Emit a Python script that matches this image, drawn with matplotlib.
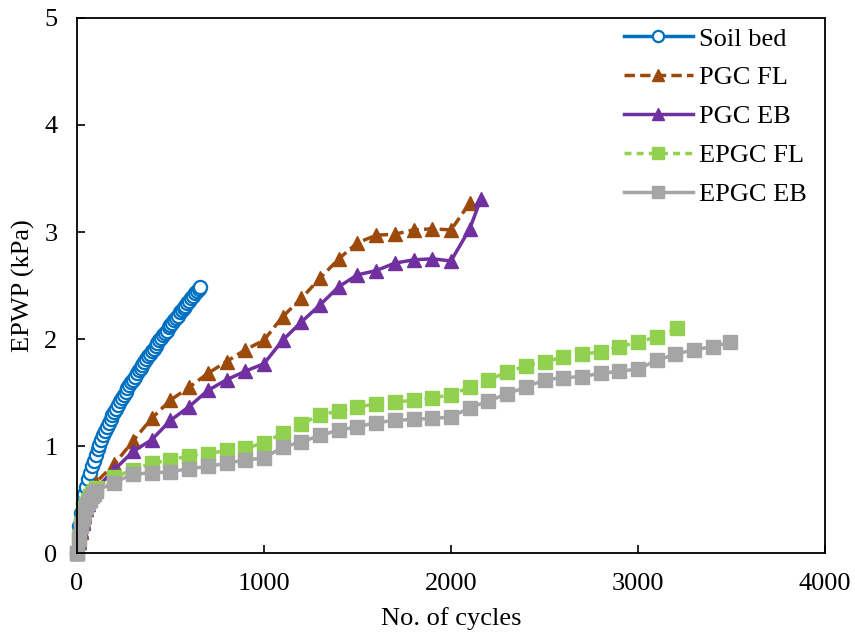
import matplotlib.pyplot as plt

plt.rcParams['font.family'] = ['Liberation Serif', 'DejaVu Serif']

# Soil bed (every 10 cycles)
soil_x = [0, 10, 20, 30, 40, 50, 60, 70, 80, 90, 100, 110, 120, 130, 140, 150, 160, 170, 180, 190,
          200, 210, 220, 230, 240, 250, 260, 270, 280, 290, 300, 310, 320, 330, 340, 350, 360, 370,
          380, 390, 400, 410, 420, 430, 440, 450, 460, 470, 480, 490, 500, 510, 520, 530, 540, 550,
          560, 570, 580, 590, 600, 610, 620, 630, 640, 650, 660]
soil_y = [0, 0.25, 0.38, 0.47, 0.55, 0.62, 0.69, 0.75, 0.81, 0.86, 0.92, 0.97, 1.01, 1.06, 1.10,
          1.14, 1.18, 1.22, 1.25, 1.29, 1.32, 1.35, 1.38, 1.42, 1.45, 1.48, 1.51, 1.54, 1.57, 1.60,
          1.62, 1.65, 1.68, 1.71, 1.73, 1.76, 1.79, 1.81, 1.84, 1.86, 1.89, 1.91, 1.94, 1.96, 1.99,
          2.01, 2.04, 2.06, 2.08, 2.11, 2.13, 2.15, 2.18, 2.20, 2.22, 2.25, 2.27, 2.29, 2.31, 2.34,
          2.36, 2.38, 2.40, 2.43, 2.45, 2.47, 2.49]

pgc_fl_x = [0, 10, 20, 30, 40, 50, 60, 70, 80, 90, 100, 200, 300, 400, 500, 600, 700, 800, 900,
            1000, 1100, 1200, 1300, 1400, 1500, 1600, 1700, 1800, 1900, 2000, 2100]
pgc_fl_y = [0, 0.12, 0.22, 0.30, 0.37, 0.43, 0.48, 0.52, 0.56, 0.60, 0.66, 0.83, 1.05, 1.26, 1.43,
            1.55, 1.68, 1.79, 1.90, 1.99, 2.21, 2.38, 2.57, 2.75, 2.90, 2.97, 2.98, 3.02, 3.03,
            3.02, 3.27]

pgc_eb_x = [0, 10, 20, 30, 40, 50, 60, 70, 80, 90, 100, 200, 300, 400, 500, 600, 700, 800, 900,
            1000, 1100, 1200, 1300, 1400, 1500, 1600, 1700, 1800, 1900, 2000, 2100, 2160]
pgc_eb_y = [0, 0.10, 0.20, 0.28, 0.35, 0.41, 0.46, 0.50, 0.54, 0.57, 0.60, 0.78, 0.95, 1.06, 1.24,
            1.37, 1.52, 1.62, 1.70, 1.77, 1.99, 2.16, 2.32, 2.49, 2.60, 2.64, 2.71, 2.74, 2.75,
            2.73, 3.03, 3.31]

epgc_fl_x = [0, 10, 20, 30, 40, 50, 60, 70, 80, 90, 100, 200, 300, 400, 500, 600, 700, 800, 900,
             1000, 1100, 1200, 1300, 1400, 1500, 1600, 1700, 1800, 1900, 2000, 2100, 2200, 2300,
             2400, 2500, 2600, 2700, 2800, 2900, 3000, 3100, 3210]
epgc_fl_y = [0, 0.15, 0.27, 0.35, 0.41, 0.46, 0.50, 0.53, 0.56, 0.58, 0.61, 0.71, 0.78, 0.84, 0.87,
             0.91, 0.93, 0.96, 0.98, 1.03, 1.12, 1.21, 1.29, 1.33, 1.37, 1.39, 1.41, 1.43, 1.45,
             1.48, 1.55, 1.62, 1.69, 1.75, 1.79, 1.83, 1.86, 1.88, 1.93, 1.97, 2.02, 2.10]

epgc_eb_x = [0, 10, 20, 30, 40, 50, 60, 70, 80, 90, 100, 200, 300, 400, 500, 600, 700, 800, 900,
             1000, 1100, 1200, 1300, 1400, 1500, 1600, 1700, 1800, 1900, 2000, 2100, 2200, 2300,
             2400, 2500, 2600, 2700, 2800, 2900, 3000, 3100, 3200, 3300, 3400, 3490]
epgc_eb_y = [0, 0.13, 0.25, 0.32, 0.38, 0.43, 0.47, 0.50, 0.53, 0.55, 0.58, 0.66, 0.74, 0.75, 0.76,
             0.79, 0.81, 0.84, 0.87, 0.89, 0.99, 1.04, 1.10, 1.15, 1.18, 1.22, 1.24, 1.25, 1.26,
             1.27, 1.36, 1.42, 1.49, 1.55, 1.62, 1.64, 1.65, 1.68, 1.70, 1.72, 1.80, 1.86, 1.90,
             1.93, 1.97]

fig = plt.figure(figsize=(8.55, 6.41), dpi=100)
ax = fig.add_axes([0.090, 0.137, 0.875, 0.835])

ax.plot(soil_x, soil_y, color='#0070C0', lw=2.5, marker='o', ms=9.5, mfc='white', mew=1.6,
        label='Soil bed', clip_on=False)
ax.plot(pgc_fl_x, pgc_fl_y, color='#9C4A0B', lw=2.5, ls=(0, (3, 1.5)), marker='^', ms=10.5,
        label='PGC FL', clip_on=False)
ax.plot(pgc_eb_x, pgc_eb_y, color='#7030A0', lw=2.5, marker='^', ms=10.5,
        label='PGC EB', clip_on=False)
ax.plot(epgc_fl_x, epgc_fl_y, color='#92D050', lw=2.5, ls=(0, (2, 1.5)), marker='s', ms=10,
        label='EPGC FL', clip_on=False)
ax.plot(epgc_eb_x, epgc_eb_y, color='#A5A5A5', lw=2.5, marker='s', ms=10,
        label='EPGC EB', clip_on=False)

ax.set_xlim(0, 4000)
ax.set_ylim(0, 5)
ax.set_xticks([0, 1000, 2000, 3000, 4000])
ax.set_yticks([0, 1, 2, 3, 4, 5])
ax.tick_params(direction='in', length=6, width=1.2, labelsize=19, pad=14)
for s in ax.spines.values():
    s.set_linewidth(1.3)

ax.set_xlabel('No. of cycles', fontsize=19, labelpad=9)
ax.set_ylabel('EPWP (kPa)', fontsize=19, labelpad=7)

ax.legend(loc='upper right', frameon=False, fontsize=19, handlelength=2.6,
          handletextpad=0.25, labelspacing=0.58, borderpad=0.1, borderaxespad=0.25,
          bbox_to_anchor=(0.988, 1.0), markerscale=0.85)

plt.savefig('out.png', dpi=100)
